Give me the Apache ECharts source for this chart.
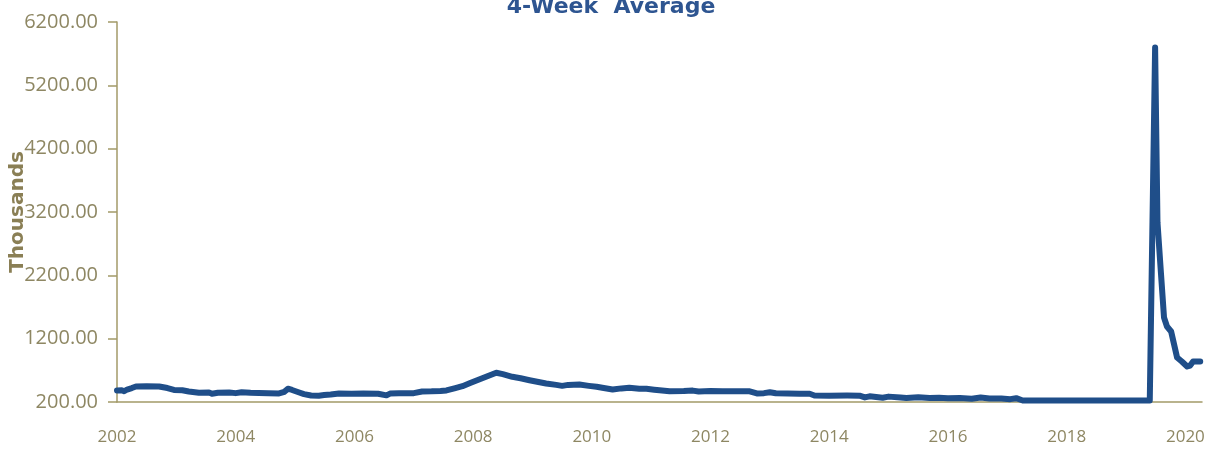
<!DOCTYPE html>
<html>
<head>
<meta charset="utf-8">
<script src="https://cdn.jsdelivr.net/npm/echarts@6/dist/echarts.min.js"></script>
<style>
html,body{margin:0;padding:0;background:#fff;}
#chart{width:1222px;height:452px;}
</style>
</head>
<body>
<div id="chart"></div>
<script>
// Time position (decimal year, as placed on the chart's axis)
var dates = [
  2002.00, 2002.08, 2002.12, 2002.17, 2002.25, 2002.32, 2002.50, 2002.71, 2002.85, 2002.96,
  2003.10, 2003.21, 2003.38, 2003.55, 2003.60, 2003.70, 2003.89, 2004.00, 2004.10, 2004.25,
  2004.39, 2004.55, 2004.73, 2004.82, 2004.88, 2004.95, 2005.07, 2005.15, 2005.27, 2005.40,
  2005.49, 2005.60, 2005.74, 2005.95, 2006.15, 2006.40, 2006.54, 2006.60, 2006.75, 2007.00,
  2007.14, 2007.30, 2007.45, 2007.55, 2007.70, 2007.82, 2007.95, 2008.10, 2008.25, 2008.39,
  2008.50, 2008.66, 2008.80, 2008.95, 2009.10, 2009.23, 2009.40, 2009.50, 2009.60, 2009.79,
  2009.95, 2010.08, 2010.20, 2010.35, 2010.50, 2010.63, 2010.80, 2010.92, 2011.05, 2011.14,
  2011.31, 2011.55, 2011.70, 2011.80, 2012.00, 2012.20, 2012.40, 2012.66, 2012.78, 2012.90,
  2013.00, 2013.10, 2013.30, 2013.50, 2013.67, 2013.75, 2014.00, 2014.30, 2014.51, 2014.60,
  2014.68, 2014.90, 2015.00, 2015.20, 2015.30, 2015.50, 2015.69, 2015.85, 2016.00, 2016.20,
  2016.40, 2016.55, 2016.70, 2016.90, 2017.05, 2017.15, 2017.26, 2018.00, 2019.40, 2019.49,
  2019.53, 2019.59, 2019.64, 2019.69, 2019.76, 2019.81, 2019.86, 2019.94, 2020.03, 2020.08,
  2020.13, 2020.25
];
// 4-week average initial claims, thousands
var claims = [
  382, 385, 370, 397, 420, 445, 448, 445, 420, 390,
  385, 366, 345, 350, 330, 345, 350, 340, 355, 345,
  342, 340, 335, 360, 410, 390, 350, 325, 303, 300,
  310, 318, 334, 332, 335, 330, 305, 333, 338, 340,
  365, 368, 375, 382, 420, 450, 500, 555, 610, 661,
  640, 598, 575, 544, 515, 492, 470, 455, 470, 476,
  455, 440, 420, 397, 415, 424, 410, 408, 395, 386,
  370, 372, 380, 365, 372, 368, 370, 368, 335, 340,
  355, 338, 333, 330, 330, 303, 300, 302, 300, 272,
  290, 268, 285, 270, 262, 275, 263, 266, 260, 262,
  250, 270, 255, 255, 245, 260, 224, 224, 224, 5797,
  3035, 2213, 1534, 1392, 1313, 1108, 903, 840, 761, 776,
  840, 840
];
var yTicks = [200, 1200, 2200, 3200, 4200, 5200, 6200];
var xTicks = [2002, 2004, 2006, 2008, 2010, 2012, 2014, 2016, 2018, 2020];

var seriesData = dates.map(function (d, i) { return [d, claims[i]]; });

var axisColor = '#A39A68';
var textColor = '#8E8763';

var chart = echarts.init(document.getElementById('chart'));
chart.setOption({
  animation: false,
  backgroundColor: '#ffffff',
  title: {
    text: '4-Week  Average',
    left: 'center',
    top: -9,
    textStyle: { fontFamily: 'DejaVu Sans', fontWeight: 'bold', fontSize: 22, color: '#2E5591' }
  },
  grid: { left: 117, right: 20, top: 22, bottom: 50, containLabel: false, outerBoundsMode: 'none' },
  xAxis: {
    type: 'value',
    min: xTicks[0],
    max: 2020.28,
    interval: 2,
    splitLine: { show: false },
    axisTick: { show: false },
    axisLine: { show: true, lineStyle: { color: axisColor, width: 1.5 } },
    axisLabel: {
      color: textColor, fontSize: 17, fontFamily: 'Open Sans', margin: 27,
      formatter: function (v) { return xTicks.indexOf(v) >= 0 ? String(v) : ''; }
    }
  },
  yAxis: {
    type: 'value',
    min: yTicks[0],
    max: yTicks[yTicks.length - 1],
    interval: 1000,
    name: 'Thousands',
    nameLocation: 'middle',
    nameRotate: 90,
    nameGap: 89,
    nameMoveOverlap: false,
    nameTextStyle: { color: '#8A7F55', fontWeight: 'bold', fontSize: 20, fontFamily: 'DejaVu Sans' },
    splitLine: { show: false },
    axisLine: { show: true, lineStyle: { color: axisColor, width: 1.5 } },
    axisTick: { show: true, inside: false, length: 9, lineStyle: { color: axisColor, width: 1.5 } },
    axisLabel: {
      color: textColor, fontSize: 20, fontFamily: 'Open Sans', margin: 19,
      formatter: function (v) { return v.toFixed(2); }
    }
  },
  series: [{
    type: 'line',
    data: seriesData,
    showSymbol: false,
    symbol: 'none',
    lineStyle: { color: '#1F4E89', width: 6, join: 'round', cap: 'round' },
    clip: false
  }]
});
</script>
</body>
</html>
